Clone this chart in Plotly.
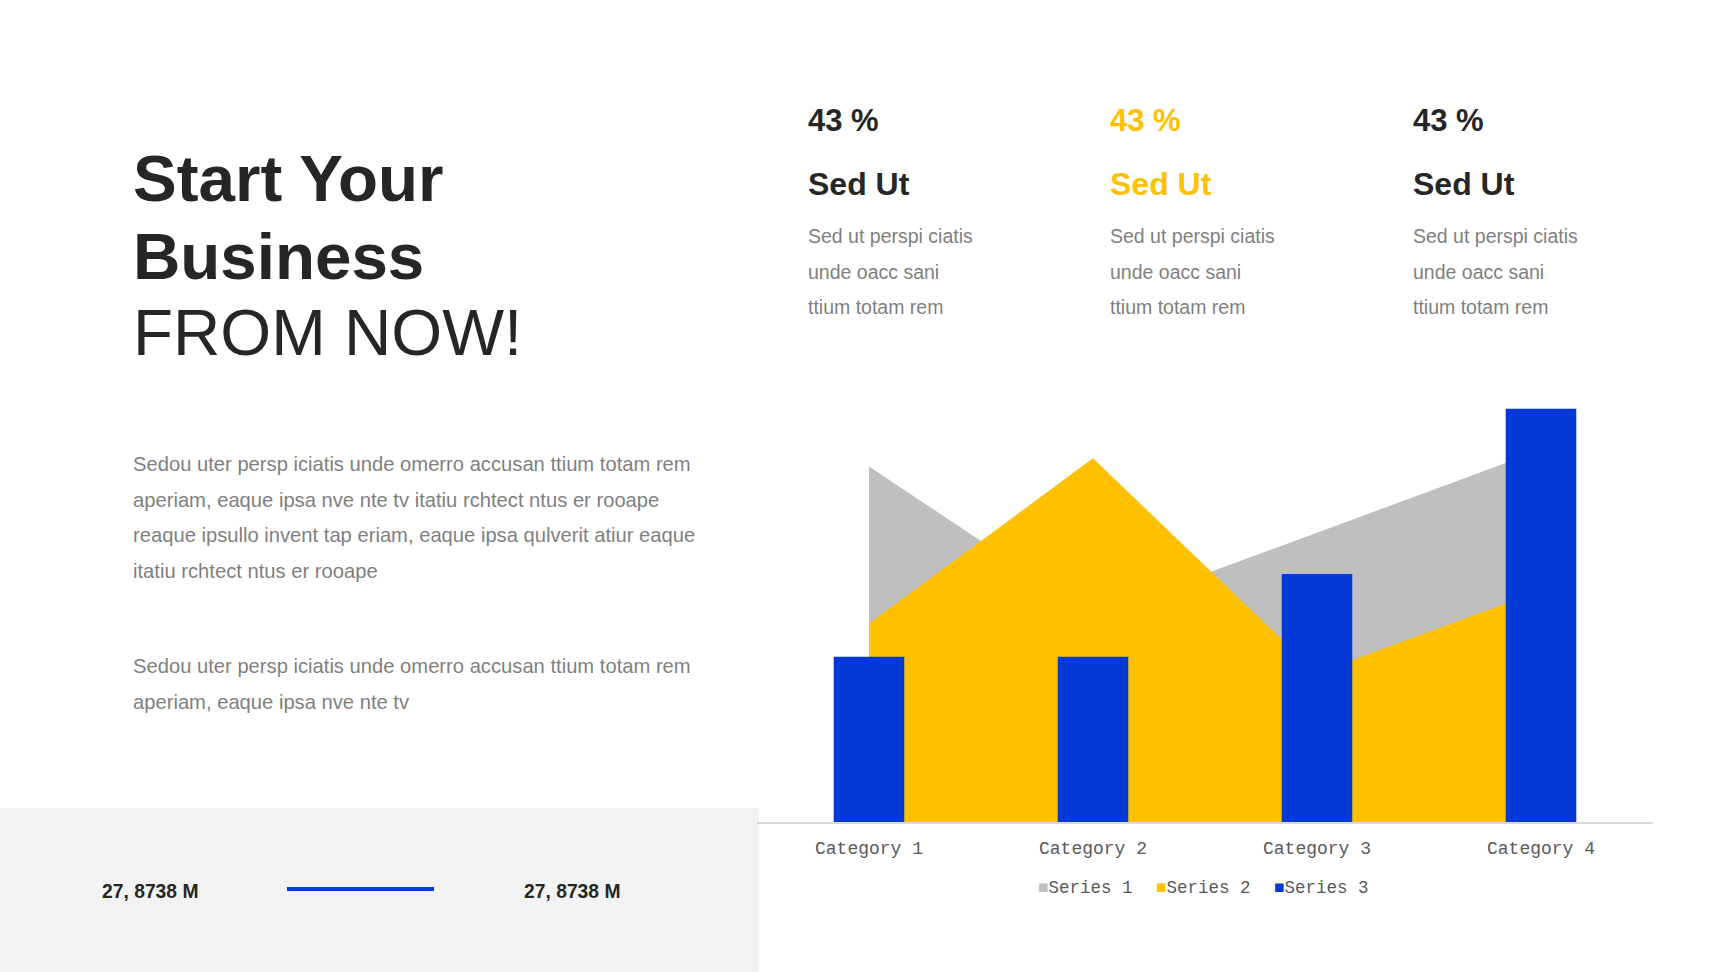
import plotly.graph_objects as go

# ---------------- data ----------------
categories = ["Category 1", "Category 2", "Category 3", "Category 4"]
series1 = [4.3, 2.5, 3.5, 4.5]
series2 = [2.4, 4.4, 1.8, 2.8]
series3 = [2.0, 2.0, 3.0, 5.0]
series_names = ["Series 1", "Series 2", "Series 3"]

title_lines = ["Start Your", "Business", "FROM NOW!"]
para1 = [
    "Sedou uter persp iciatis unde omerro accusan ttium totam rem",
    "aperiam, eaque ipsa nve nte tv itatiu rchtect ntus er rooape",
    "reaque ipsullo invent tap eriam, eaque ipsa qulverit atiur eaque",
    "itatiu rchtect ntus er rooape",
]
para2 = [
    "Sedou uter persp iciatis unde omerro accusan ttium totam rem",
    "aperiam, eaque ipsa nve nte tv",
]
stat_values = ["43 %", "43 %", "43 %"]
stat_titles = ["Sed Ut", "Sed Ut", "Sed Ut"]
stat_body = ["Sed ut perspi ciatis", "unde oacc sani", "ttium totam rem"]
bottom_values = ["27, 8738 M", "27, 8738 M"]

# ---------------- style ----------------
W, H = 1728, 972
GRAY = "#BFBFBF"
GOLD = "#FFC000"
BLUE = "#033AD6"
DARK = "#262626"
TXT = "#7F7F7F"
AX = "#595959"
SANS = "Liberation Sans, Arial, sans-serif"
MONO = "Liberation Mono, DejaVu Sans Mono, monospace"
series_colors = [GRAY, GOLD, BLUE]

def px(x):
    return x / W

def py(y):
    return 1 - y / H

fig = go.Figure()

fig.add_trace(go.Scatter(
    x=categories, y=series1, name=series_names[0], mode="none",
    fill="tozeroy", fillcolor=GRAY, xaxis="x", yaxis="y", showlegend=False))
fig.add_trace(go.Scatter(
    x=categories, y=series2, name=series_names[1], mode="none",
    fill="tozeroy", fillcolor=GOLD, xaxis="x", yaxis="y", showlegend=False))
fig.add_trace(go.Bar(
    x=categories, y=series3, name=series_names[2], marker_color=BLUE,
    marker_line_width=0, xaxis="x2", yaxis="y2", showlegend=False))

xdom = [px(757), px(1653)]
ydom = [py(822), py(326)]

annotations = []

def text(x, y, s, size, color, weight=400, family=SANS, anchor="left"):
    annotations.append(dict(
        x=px(x), y=py(y), xref="paper", yref="paper", text=s,
        showarrow=False, xanchor=anchor, yanchor="middle",
        font=dict(size=size, color=color, family=family, weight=weight)))

# title
title_y = [178, 256, 333]
for i, line in enumerate(title_lines):
    text(131, title_y[i], line, 65.5, DARK, 700 if i < 2 else 400)

# paragraphs
for i, line in enumerate(para1):
    text(131, 464 + i * 35.6, line, 20.2, TXT)
for i, line in enumerate(para2):
    text(131, 666 + i * 35.6, line, 20.2, TXT)

# stat columns
col_x = [806, 1108, 1411]
col_color = [DARK, GOLD, DARK]
for c in range(3):
    text(col_x[c], 121, stat_values[c], 31, col_color[c], 700)
    text(col_x[c], 184, stat_titles[c], 32, col_color[c], 700)
    for j, line in enumerate(stat_body):
        text(col_x[c], 236 + j * 35.6, line, 19.5, TXT)

# bottom panel values
text(100, 891, bottom_values[0], 19.3, DARK, 700)
text(522, 891, bottom_values[1], 19.3, DARK, 700)

# legend (Excel style: small square directly before the label)
legend_x = [1036, 1154, 1272]
for i, name in enumerate(series_names):
    annotations.append(dict(
        x=px(legend_x[i]), y=py(888), xref="paper", yref="paper",
        text=f"<span style='color:{series_colors[i]}'>■</span>{name}",
        showarrow=False, xanchor="left", yanchor="middle",
        font=dict(size=17.5, color=AX, family=MONO)))

shapes = [
    dict(type="rect", xref="paper", yref="paper", x0=0, x1=px(759),
         y0=0, y1=py(808), fillcolor="#F2F2F2", line_width=0, layer="below"),
    dict(type="line", xref="paper", yref="paper", x0=px(287), x1=px(434),
         y0=py(889), y1=py(889), line=dict(color=BLUE, width=4)),
]

fig.update_layout(
    width=W, height=H,
    margin=dict(l=0, r=0, t=0, b=0),
    paper_bgcolor="white", plot_bgcolor="rgba(0,0,0,0)",
    showlegend=False,
    bargap=0.685,
    xaxis=dict(domain=xdom, type="category", range=[-0.5, 3.5],
               showgrid=False, zeroline=False, showline=True,
               linecolor="#D9D9D9", linewidth=2, ticks="",
               ticklabelstandoff=8,
               tickfont=dict(family=MONO, size=18, color=AX)),
    yaxis=dict(domain=ydom, range=[0, 6], showgrid=False, zeroline=False,
               showticklabels=False, showline=False),
    xaxis2=dict(domain=xdom, type="category", range=[-0.5, 3.5],
                overlaying="x", anchor="y2", showgrid=False, zeroline=False,
                showticklabels=False, showline=False),
    yaxis2=dict(domain=ydom, range=[0, 6], overlaying="y", anchor="x2",
                showgrid=False, zeroline=False, showticklabels=False,
                showline=False),
    annotations=annotations,
    shapes=shapes,
)

fig.write_html("out.html", config={"displayModeBar": False},
               post_script="document.body.style.margin='0';")
